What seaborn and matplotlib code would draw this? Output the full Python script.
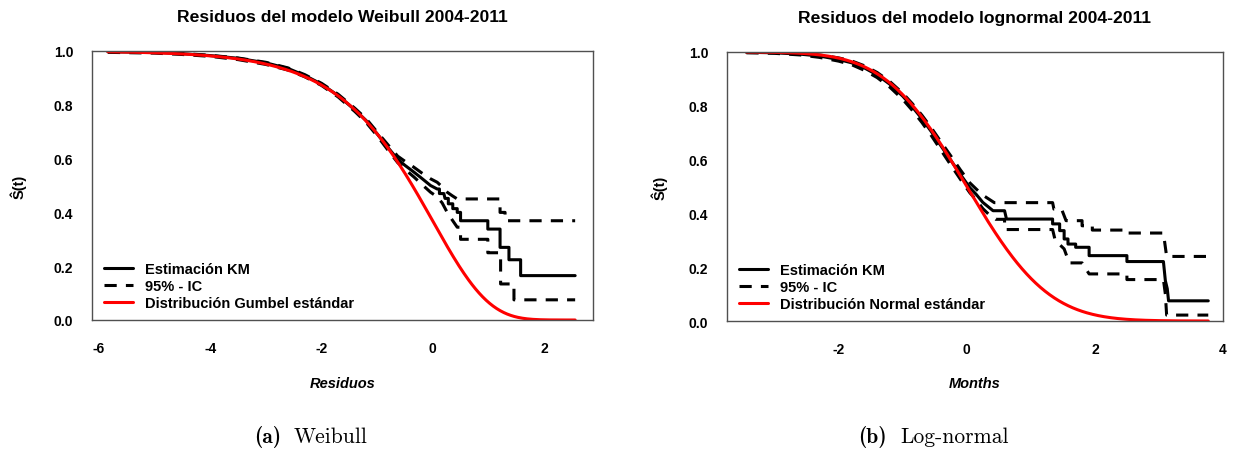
import math

import matplotlib
matplotlib.use("Agg")
import matplotlib.pyplot as plt
from matplotlib.lines import Line2D
import numpy as np
import pandas as pd
import seaborn as sns

# ---------------------------------------------------------------------------
# Kaplan-Meier estimate of the residuals with 95% pointwise bands.
# Each curve is stored as its vertices (residual, survival); the step
# corners are listed twice so the curves are drawn as plain polylines.
# ---------------------------------------------------------------------------
# Weibull model residuals
wei_km_x = [-5.84, -5.0, -4.5, -4.0, -3.5, -3.0, -2.6, -2.3, -2.0, -1.7, -1.4,
            -1.2, -1.0, -0.8, -0.63, -0.5, -0.34, -0.2, -0.04, 0.08, 0.12,
            0.12, 0.20, 0.22, 0.28, 0.28, 0.36, 0.36, 0.44, 0.44, 0.50, 0.50,
            0.99, 0.99, 1.21, 1.21, 1.37, 1.37, 1.58, 1.58, 2.56]
wei_km_s = [0.997, 0.995, 0.990, 0.983, 0.973, 0.956, 0.935, 0.909, 0.877,
            0.834, 0.781, 0.742, 0.692, 0.640, 0.597, 0.575, 0.550, 0.527,
            0.500, 0.487, 0.487, 0.470, 0.470, 0.452, 0.452, 0.432, 0.432,
            0.414, 0.414, 0.400, 0.400, 0.369, 0.369, 0.338, 0.338, 0.270,
            0.270, 0.224, 0.224, 0.165, 0.165]
wei_up_x = [-5.84, -5.0, -4.5, -4.0, -3.5, -3.0, -2.6, -2.3, -2.0, -1.7, -1.4,
            -1.2, -1.0, -0.8, -0.63, -0.5, -0.34, -0.2, -0.04, 0.08, 0.17,
            0.26, 0.35, 0.44, 1.21, 1.21, 1.30, 1.30, 2.56]
wei_up_s = [0.999, 0.996, 0.991, 0.984, 0.974, 0.958, 0.937, 0.912, 0.880,
            0.839, 0.787, 0.749, 0.699, 0.650, 0.609, 0.590, 0.568, 0.547,
            0.525, 0.512, 0.495, 0.475, 0.462, 0.450, 0.450, 0.400, 0.400,
            0.369, 0.369]
wei_lo_x = [-5.84, -5.0, -4.5, -4.0, -3.5, -3.0, -2.6, -2.3, -2.0, -1.7, -1.4,
            -1.2, -1.0, -0.8, -0.63, -0.5, -0.34, -0.2, -0.04, 0.08, 0.17,
            0.26, 0.35, 0.44, 0.50, 0.50, 0.99, 0.99, 1.22, 1.22, 1.46, 1.46,
            2.56]
wei_lo_s = [0.995, 0.992, 0.987, 0.980, 0.968, 0.950, 0.929, 0.904, 0.872,
            0.829, 0.775, 0.735, 0.685, 0.630, 0.585, 0.560, 0.532, 0.505,
            0.475, 0.458, 0.435, 0.400, 0.372, 0.345, 0.345, 0.300, 0.300,
            0.250, 0.250, 0.134, 0.134, 0.075, 0.075]

# Log-normal model residuals
lgn_km_x = [-3.44, -3.0, -2.6, -2.3, -2.0, -1.8, -1.6, -1.4, -1.2, -1.0,
            -0.85, -0.7, -0.55, -0.4, -0.25, -0.1, 0.05, 0.15, 0.25, 0.41,
            0.59, 0.62, 1.34, 1.34, 1.45, 1.45, 1.52, 1.52, 1.58, 1.58, 1.70,
            1.70, 1.91, 1.91, 2.50, 2.50, 3.07, 3.10, 3.13, 3.15, 3.77]
lgn_km_s = [0.999, 0.997, 0.992, 0.985, 0.972, 0.960, 0.941, 0.915, 0.880,
            0.836, 0.796, 0.752, 0.703, 0.650, 0.598, 0.545, 0.495, 0.470,
            0.441, 0.410, 0.410, 0.379, 0.379, 0.361, 0.361, 0.336, 0.336,
            0.305, 0.305, 0.286, 0.286, 0.274, 0.274, 0.243, 0.243, 0.221,
            0.221, 0.150, 0.120, 0.075, 0.075]
lgn_up_x = [-3.44, -3.0, -2.6, -2.3, -2.0, -1.8, -1.6, -1.4, -1.2, -1.0,
            -0.85, -0.7, -0.55, -0.4, -0.25, -0.1, 0.05, 0.15, 0.25, 0.43,
            1.34, 1.36, 1.48, 1.55, 1.80, 1.80, 1.96, 1.96, 2.50, 2.50, 3.07,
            3.12, 3.77]
lgn_up_s = [1.000, 0.999, 0.995, 0.989, 0.978, 0.967, 0.949, 0.924, 0.890,
            0.847, 0.808, 0.765, 0.717, 0.665, 0.614, 0.562, 0.513, 0.490,
            0.468, 0.440, 0.440, 0.416, 0.416, 0.373, 0.373, 0.354, 0.354,
            0.338, 0.338, 0.327, 0.327, 0.240, 0.240]
lgn_lo_x = [-3.44, -3.0, -2.6, -2.3, -2.0, -1.8, -1.6, -1.4, -1.2, -1.0,
            -0.85, -0.7, -0.55, -0.4, -0.25, -0.1, 0.05, 0.15, 0.25, 0.35,
            0.45, 0.59, 0.59, 1.34, 1.38, 1.52, 1.60, 1.80, 1.91, 2.50, 2.50,
            3.07, 3.10, 3.12, 3.77]
lgn_lo_s = [0.997, 0.995, 0.989, 0.980, 0.966, 0.953, 0.932, 0.905, 0.869,
            0.824, 0.783, 0.738, 0.688, 0.634, 0.580, 0.527, 0.476, 0.450,
            0.418, 0.395, 0.378, 0.378, 0.340, 0.340, 0.300, 0.268, 0.216,
            0.216, 0.175, 0.175, 0.154, 0.154, 0.100, 0.022, 0.022]

# Residual range covered by each reference distribution
wei_range = (-5.84, 2.56)
lgn_range = (-3.44, 3.77)

titles = ["Residuos del modelo Weibull 2004-2011",
          "Residuos del modelo lognormal 2004-2011"]
xlabels = ["Residuos", "Months"]
caption_tags = ["(a)", "(b)"]
caption_names = ["Weibull", "Log-normal"]
legend_labels = [["Estimación KM", "95% - IC", "Distribución Gumbel estándar"],
                 ["Estimación KM", "95% - IC", "Distribución Normal estándar"]]
x_ticks = [[-6, -4, -2, 0, 2], [-2, 0, 2, 4]]
y_ticks = [0.0, 0.2, 0.4, 0.6, 0.8, 1.0]


def gumbel_min_sf(x):
    """Survival function of the standard (minimum) Gumbel distribution."""
    return np.exp(-np.exp(x))


def normal_sf(x):
    """Survival function of the standard normal distribution."""
    return np.array([0.5 * math.erfc(v / math.sqrt(2.0)) for v in x])


# ---------------------------------------------------------------------------
sns.set_theme(style="white")
plt.rcParams["font.family"] = ["Liberation Sans", "DejaVu Sans"]
plt.rcParams["text.color"] = "black"

W, H = 1233, 452
fig = plt.figure(figsize=(W / 100, H / 100), dpi=100)

boxes = [(92, 593, 52, 321), (727, 1223, 53, 322)]
xlims = [(-6.126, 2.881), (-3.743, 3.983)]
ylabel_x = [18.5, 659]
caption_split = [(281, 294), (887, 900)]

panels = [
    ((wei_km_x, wei_km_s), (wei_up_x, wei_up_s), (wei_lo_x, wei_lo_s),
     wei_range, gumbel_min_sf),
    ((lgn_km_x, lgn_km_s), (lgn_up_x, lgn_up_s), (lgn_lo_x, lgn_lo_s),
     lgn_range, normal_sf),
]

LW = 2.2
DASH = (4, 3)
RED = "#ff0000"
frame_col = "#505050"

for i, (box, (km, up, lo, rng, sf)) in enumerate(zip(boxes, panels)):
    x0, x1, y0, y1 = box
    ax = fig.add_axes([x0 / W, 1 - y1 / H, (x1 - x0) / W, (y1 - y0) / H])

    grid = np.linspace(rng[0], rng[1], 400)
    ref = pd.DataFrame({"x": grid, "s": sf(grid)})

    for (cx, cs) in (up, lo):
        band = pd.DataFrame({"x": cx, "s": cs})
        sns.lineplot(data=band, x="x", y="s", ax=ax, color="black", lw=LW,
                     estimator=None, sort=False, linestyle=(0, DASH))
    est = pd.DataFrame({"x": km[0], "s": km[1]})
    sns.lineplot(data=est, x="x", y="s", ax=ax, color="black", lw=LW,
                 estimator=None, sort=False)
    sns.lineplot(data=ref, x="x", y="s", ax=ax, color=RED, lw=LW,
                 estimator=None, sort=False)

    ax.set_xlim(*xlims[i])
    ax.set_ylim(0, 1)
    ax.set_xticks(x_ticks[i])
    ax.set_yticks(y_ticks)
    ax.set_xticklabels([str(v) for v in x_ticks[i]])
    ax.set_yticklabels([f"{v:.1f}" for v in y_ticks])
    ax.set_xlabel("")
    ax.set_ylabel("")
    for sp in ax.spines.values():
        sp.set_visible(True)
        sp.set_color(frame_col)
        sp.set_linewidth(1.0)
    ax.tick_params(axis="both", direction="out", length=6.5, width=1.0,
                   color=frame_col, labelsize=10, labelcolor="black")
    ax.tick_params(axis="x", pad=8.5)
    ax.tick_params(axis="y", pad=7)
    for lab in ax.get_xticklabels() + ax.get_yticklabels():
        lab.set_fontweight("bold")

    handles = [Line2D([], [], color="black", lw=LW),
               Line2D([], [], color="black", lw=LW, linestyle=(0, DASH)),
               Line2D([], [], color=RED, lw=LW)]
    ax.legend(handles, legend_labels[i], loc="upper left",
              bbox_to_anchor=(0.024, 0.215), frameon=False,
              handlelength=2.0, handletextpad=0.8, labelspacing=0.2,
              borderpad=0, borderaxespad=0,
              prop={"weight": "bold", "size": 10.5})

    xc = (x0 + x1) / 2
    fig.text(xc / W, 1 - 18 / H, titles[i], ha="center", va="center",
             fontsize=12.6, fontweight="bold", color="black")
    fig.text(xc / W, 1 - 384 / H, xlabels[i], ha="center", va="center",
             fontsize=10.5, fontweight="bold", fontstyle="italic",
             color="black")
    fig.text(ylabel_x[i] / W, 1 - ((y0 + y1) / 2) / H, "Ŝ(t)",
             ha="center", va="center", rotation=90, fontsize=10.5,
             fontweight="bold", color="black")
    tag_r, name_l = caption_split[i]
    fig.text(tag_r / W, 1 - 437 / H, caption_tags[i], ha="right",
             va="center", fontsize=15.5, family="cmb10", color="black")
    fig.text(name_l / W, 1 - 437 / H, caption_names[i], ha="left",
             va="center", fontsize=15.5, family="cmr10", color="black")

fig.savefig("out.png", dpi=100, facecolor="white")
